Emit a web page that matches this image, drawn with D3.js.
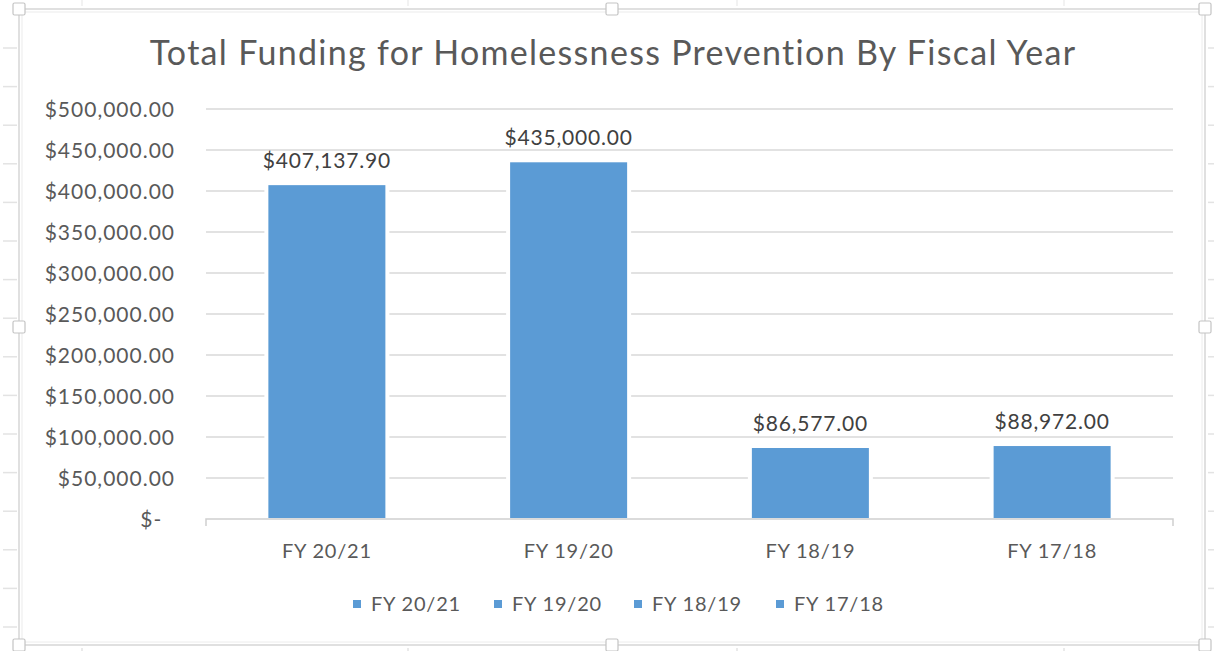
<!DOCTYPE html>
<html>
<head>
<meta charset="utf-8">
<script src="https://cdn.jsdelivr.net/npm/d3@7"></script>
<style>
  html, body { margin: 0; padding: 0; background: #fff; }
  svg { display: block; }
  text { font-family: Lato, "Open Sans", sans-serif; }
</style>
</head>
<body>
<svg id="chart" width="1214" height="651"></svg>
<script>
// Funding per fiscal year
const categories = ["FY 20/21", "FY 19/20", "FY 18/19", "FY 17/18"];
const funding = [407137.90, 435000.00, 86577.00, 88972.00];
const yTickValues = [0, 50000, 100000, 150000, 200000, 250000, 300000, 350000, 400000, 450000, 500000];
const titleText = "Total Funding for Homelessness Prevention By Fiscal Year";

const W = 1214, H = 651;
const svg = d3.select("#chart");

const textColor = "#595959";
const gridColor = "#d9d9d9";
const barColor = "#5b9bd5";

// ---- worksheet background (cell grid around the chart object) ----
const sheet = svg.append("g");
const rowLines = d3.range(48, H, 38.6);
sheet.selectAll("line.rowL").data(rowLines).join("line")
  .attr("x1", 3).attr("x2", 17).attr("y1", d => d).attr("y2", d => d)
  .attr("stroke", "#e3e3e3").attr("stroke-width", 1.5);
sheet.selectAll("line.rowR").data(rowLines).join("line")
  .attr("x1", 1208).attr("x2", W).attr("y1", d => d).attr("y2", d => d)
  .attr("stroke", "#e3e3e3").attr("stroke-width", 1.5);
const colLines = [82, 408, 737, 1064];
sheet.selectAll("line.colB").data(colLines).join("line")
  .attr("x1", d => d).attr("x2", d => d).attr("y1", 648).attr("y2", H)
  .attr("stroke", "#e3e3e3").attr("stroke-width", 1.5);
sheet.selectAll("line.colT").data(colLines).join("line")
  .attr("x1", d => d).attr("x2", d => d).attr("y1", 0).attr("y2", 6)
  .attr("stroke", "#eeeeee").attr("stroke-width", 1.5);

// ---- chart frame ----
const frame = { x: 19, y: 9, w: 1186, h: 636 };
svg.append("rect")
  .attr("x", frame.x).attr("y", frame.y).attr("width", frame.w).attr("height", frame.h)
  .attr("fill", "#fff").attr("stroke", "#d6d6d6").attr("stroke-width", 1.5);
svg.append("rect")
  .attr("x", frame.x + 3).attr("y", frame.y + 3).attr("width", frame.w - 6).attr("height", frame.h - 6)
  .attr("fill", "none").attr("stroke", "#ececec").attr("stroke-width", 1);

// ---- plot area scales ----
const plot = { left: 206, right: 1173, top: 109, bottom: 519 };
const x = d3.scaleBand()
  .domain(categories)
  .range([plot.left, plot.right])
  .paddingInner(0.516)
  .paddingOuter(0.258);
const y = d3.scaleLinear()
  .domain([0, 500000])
  .range([plot.bottom, plot.top]);

// gridlines
svg.append("g").selectAll("line").data(yTickValues.filter(v => v > 0)).join("line")
  .attr("x1", plot.left).attr("x2", plot.right)
  .attr("y1", d => y(d)).attr("y2", d => y(d))
  .attr("stroke", gridColor).attr("stroke-width", 1.5);

// y axis labels
const fmtTick = v => v === 0 ? "$-\u00a0\u00a0" : d3.format("$,.2f")(v);
const yAxis = svg.append("g")
  .attr("transform", `translate(${plot.left - 31},0)`)
  .call(d3.axisLeft(y).tickValues(yTickValues).tickSize(0).tickPadding(0).tickFormat(fmtTick));
yAxis.select(".domain").remove();
yAxis.selectAll("text")
  .attr("fill", textColor).style("font-size", "21px").style("letter-spacing", "1px")
  .attr("dy", "0.36em");

// bars (with a white border that interrupts the gridlines)
const data = categories.map((c, i) => ({ cat: c, value: funding[i] }));
const bars = svg.append("g");
bars.selectAll("rect.halo").data(data).join("rect")
  .attr("class", "halo")
  .attr("x", d => x(d.cat) - 4)
  .attr("width", x.bandwidth() + 8)
  .attr("y", d => y(d.value) - 4)
  .attr("height", d => y(0) - y(d.value) + 2)
  .attr("fill", "#fff");
bars.selectAll("rect.bar").data(data).join("rect")
  .attr("class", "bar")
  .attr("x", d => x(d.cat))
  .attr("width", x.bandwidth())
  .attr("y", d => y(d.value))
  .attr("height", d => y(0) - y(d.value) - 1)
  .attr("fill", barColor);

// category axis line with end ticks
const xAxis = svg.append("g")
  .attr("transform", `translate(0,${plot.bottom})`)
  .call(d3.axisBottom(x).tickSize(0).tickPadding(25));
xAxis.select(".domain").attr("stroke", "#d0d0d0").attr("stroke-width", 1.5)
  .attr("d", `M${plot.left},7V0H${plot.right}V7`);
xAxis.selectAll("text")
  .attr("fill", textColor).style("font-size", "20px").style("letter-spacing", "0.8px");

// data labels
svg.append("g").selectAll("text").data(data).join("text")
  .attr("x", d => x(d.cat) + x.bandwidth() / 2)
  .attr("y", d => y(d.value) - 17)
  .attr("text-anchor", "middle")
  .attr("fill", "#404040")
  .style("font-size", "21px").style("letter-spacing", "0.8px")
  .text(d => d3.format("$,.2f")(d.value));

// title
svg.append("text")
  .attr("x", 613).attr("y", 65)
  .attr("text-anchor", "middle")
  .attr("fill", textColor)
  .style("font-size", "34px").style("letter-spacing", "1.3px")
  .text(titleText);

// legend
const legendX = [353, 494, 634, 776];
const legend = svg.append("g").selectAll("g").data(categories).join("g")
  .attr("transform", (d, i) => `translate(${legendX[i]},604)`);
legend.append("rect")
  .attr("x", 0).attr("y", -4).attr("width", 8).attr("height", 8)
  .attr("fill", barColor);
legend.append("text")
  .attr("x", 18).attr("y", 0).attr("dy", "0.36em")
  .attr("fill", textColor).style("font-size", "20px").style("letter-spacing", "0.8px")
  .text(d => d);

// selection handles on the chart frame
const hx = [frame.x, frame.x + frame.w / 2, frame.x + frame.w];
const hy = [frame.y, frame.y + frame.h / 2, frame.y + frame.h];
const handles = [];
hx.forEach((px, i) => hy.forEach((py, j) => { if (!(i === 1 && j === 1)) handles.push([px, py]); }));
svg.append("g").selectAll("rect").data(handles).join("rect")
  .attr("x", d => d[0] - 6).attr("y", d => d[1] - 6)
  .attr("width", 12).attr("height", 12).attr("rx", 1.5)
  .attr("fill", "#fff").attr("stroke", "#c4c4c4").attr("stroke-width", 1.2);
</script>
</body>
</html>
